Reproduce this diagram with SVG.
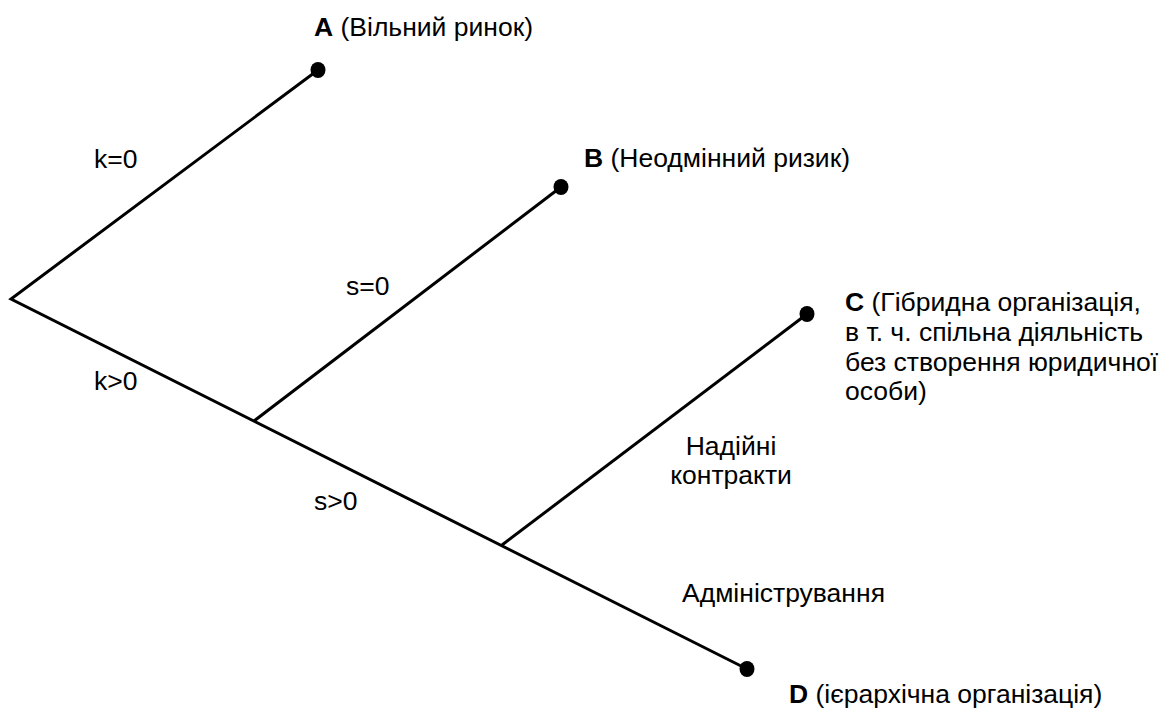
<svg xmlns="http://www.w3.org/2000/svg" width="1165" height="711" viewBox="0 0 1165 711">
<style>
text{font-family:"Liberation Sans",Arial,sans-serif;font-size:26.5px;fill:#000}
.b{font-weight:bold}
.ln{stroke:#000;stroke-width:3;fill:none;stroke-linecap:butt;stroke-linejoin:miter}
.dot{fill:#000}
</style>
<rect width="1165" height="711" fill="#fff"/>
<g id="connectors">
<polyline class="ln" points="318,70 11,299 747,669"/>
<line class="ln" x1="254" y1="421" x2="561" y2="187"/>
<line class="ln" x1="502" y1="545" x2="807" y2="314"/>
<text x="94" y="168">k=0</text>
<text x="94" y="390">k&gt;0</text>
<text x="346" y="295">s=0</text>
<text x="314" y="510">s&gt;0</text>
<text x="731" y="455" text-anchor="middle">Надійні</text>
<text x="731" y="484" text-anchor="middle">контракти</text>
<text x="682" y="602">Адміністрування</text>
</g>
<g id="nodeA">
<ellipse class="dot" cx="318" cy="70" rx="7.5" ry="8"/>
<text x="314" y="36"><tspan class="b">A</tspan> (Вільний ринок)</text>
</g>
<g id="nodeB">
<ellipse class="dot" cx="561" cy="187" rx="7.5" ry="8"/>
<text x="584" y="167"><tspan class="b">B</tspan> (Неодмінний ризик)</text>
</g>
<g id="nodeC">
<ellipse class="dot" cx="807" cy="314" rx="7.5" ry="8"/>
<text x="845" y="311"><tspan class="b">C</tspan> (Гібридна організація,</text>
<text x="845" y="341">в т. ч. спільна діяльність</text>
<text x="845" y="371">без створення юридичної</text>
<text x="845" y="400">особи)</text>
</g>
<g id="nodeD">
<ellipse class="dot" cx="747" cy="669" rx="7.5" ry="8"/>
<text x="789" y="703"><tspan class="b">D</tspan> (ієрархічна організація)</text>
</g>
</svg>
